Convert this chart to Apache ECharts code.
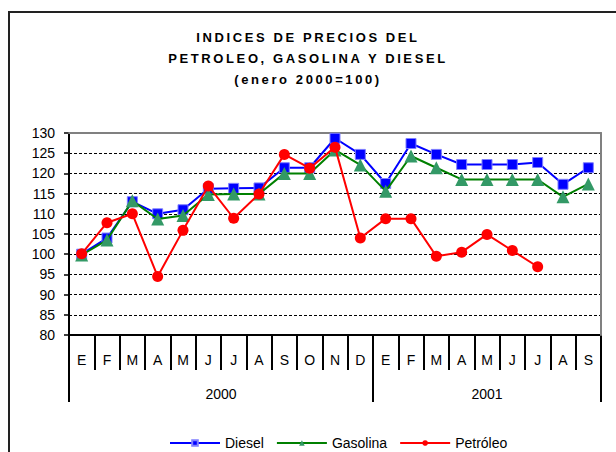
<!DOCTYPE html>
<html>
  <head>
    <meta charset="utf-8" />
    <title>Indices de precios</title>
    <script src="https://cdn.jsdelivr.net/npm/echarts@6.0.0/dist/echarts.min.js"></script>
    <style>
      /* the original title is set with wide letter spacing */
      #main svg text[style*="bold"] { letter-spacing: 2.6px; }
    </style>
  </head>
  <body style="margin:0">
    <div id="main" style="width: 616px;height:452px;"></div>
    <script type="text/javascript">
      var months = ['E', 'F', 'M', 'A', 'M', 'J', 'J', 'A', 'S', 'O', 'N', 'D',
                    'E', 'F', 'M', 'A', 'M', 'J', 'J', 'A', 'S'];
      var years = ['2000', '2001'];
      var monthsPerYear = [12, 9];
      var yTicks = [80, 85, 90, 95, 100, 105, 110, 115, 120, 125, 130];

      var diesel = [100, 104, 113, 110, 111, 116.2, 116.3, 116.4, 121.4, 121.4, 128.7, 124.7,
                    117.5, 127.4, 124.7, 122.2, 122.2, 122.2, 122.7, 117.3, 121.4];
      var gasolina = [99.8, 103.5, 113.2, 108.7, 109.6, 114.8, 114.9, 114.9, 120, 120, 125.8, 122.1,
                      115.6, 124.3, 121.4, 118.5, 118.5, 118.5, 118.5, 114.2, 117.4];
      var petroleo = [100.1, 107.8, 110, 94.5, 105.9, 116.9, 108.9, 114.9, 124.7, 121.3, 126.5, 104,
                      108.8, 108.8, 99.5, 100.5, 104.9, 100.9, 96.9, null, null];

      // year separators and label centres, in month units
      var yearEdges = [0];
      var yearCentres = [];
      monthsPerYear.forEach(function (n) {
        var start = yearEdges[yearEdges.length - 1];
        yearCentres.push(start + n / 2);
        yearEdges.push(start + n);
      });

      var chartDom = document.getElementById('main');
      var myChart = echarts.init(chartDom, null, { renderer: 'svg' });
      var font = 'Arial, "Liberation Sans", sans-serif';

      var option = {
        animation: false,
        backgroundColor: '#fff',
        textStyle: { fontFamily: font },
        title: {
          text: 'INDICES DE PRECIOS DEL\nPETROLEO, GASOLINA Y DIESEL\n(enero 2000=100)',
          left: 'center',
          top: 22,
          textStyle: { fontSize: 13, fontWeight: 'bold', color: '#000', lineHeight: 21, fontFamily: font }
        },
        graphic: [{
          type: 'rect',
          shape: { x: 9, y: 12, width: 620, height: 460 },
          style: { fill: 'none', stroke: '#222', lineWidth: 2 }
        }],
        legend: {
          left: 164,
          top: 431,
          itemWidth: 50,
          itemHeight: 7,
          itemGap: 12,
          textStyle: { fontSize: 14, color: '#000', fontFamily: font },
          data: ['Diesel', 'Gasolina', 'Petróleo']
        },
        grid: { left: 69, right: 15, top: 133, bottom: 117 },
        xAxis: [
          {
            type: 'category',
            data: months,
            boundaryGap: true,
            axisLine: { lineStyle: { color: '#000', width: 2 } },
            axisTick: { show: true, interval: 0, length: 35, lineStyle: { color: '#000', width: 2 } },
            axisLabel: { interval: 0, margin: 18, fontSize: 14, color: '#000' },
            splitLine: { show: false },
            z: 4
          },
          {
            type: 'value',
            min: 0,
            max: months.length,
            position: 'bottom',
            axisLine: { show: false },
            axisTick: { show: true, customValues: yearEdges, length: 67, lineStyle: { color: '#000', width: 2 } },
            axisLabel: {
              customValues: yearCentres,
              margin: 52,
              fontSize: 14,
              color: '#000',
              formatter: function (v) { return years[yearCentres.indexOf(v)]; }
            },
            splitLine: { show: false },
            z: 4
          },
          {
            type: 'category',
            data: months,
            position: 'top',
            axisLine: { lineStyle: { color: '#808080', width: 2 } },
            axisTick: { show: false },
            axisLabel: { show: false },
            z: 5
          }
        ],
        yAxis: [
          {
            type: 'value',
            min: yTicks[0],
            max: yTicks[yTicks.length - 1],
            interval: 5,
            axisLine: { show: true, lineStyle: { color: '#000', width: 2 } },
            axisTick: { show: true, length: 5, lineStyle: { color: '#000', width: 1.5 } },
            axisLabel: { margin: 14, fontSize: 14, color: '#000' },
            splitLine: { lineStyle: { color: '#000', width: 1, type: [3, 2] } },
            z: 4
          },
          {
            type: 'value',
            min: yTicks[0],
            max: yTicks[yTicks.length - 1],
            position: 'right',
            axisLine: { show: true, lineStyle: { color: '#808080', width: 2 } },
            axisTick: { show: false },
            axisLabel: { show: false },
            splitLine: { show: false },
            z: 5
          }
        ],
        series: [
          {
            name: 'Diesel',
            type: 'line',
            data: diesel,
            symbol: 'rect',
            symbolSize: 10,
            color: '#0000ff',
            lineStyle: { color: '#0000ff', width: 2 },
            itemStyle: { color: '#0000ff', borderColor: '#7f7fff', borderWidth: 1 },
            z: 6
          },
          {
            name: 'Gasolina',
            type: 'line',
            data: gasolina,
            symbol: 'triangle',
            symbolSize: 13,
            color: '#339966',
            lineStyle: { color: '#008000', width: 2 },
            itemStyle: { color: '#339966' },
            z: 7
          },
          {
            name: 'Petróleo',
            type: 'line',
            data: petroleo,
            symbol: 'circle',
            symbolSize: 11,
            color: '#ff0000',
            lineStyle: { color: '#ff0000', width: 2 },
            itemStyle: { color: '#ff0000' },
            z: 8
          }
        ]
      };

      option && myChart.setOption(option);
    </script>
  </body>
</html>
